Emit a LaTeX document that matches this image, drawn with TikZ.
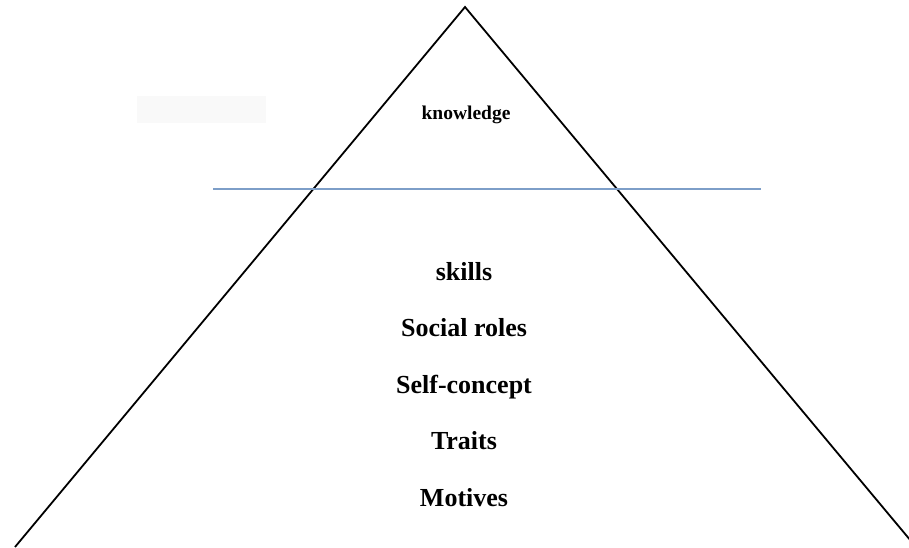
\documentclass[tikz,border=0pt]{standalone}
\usepackage{fontspec}
\setmainfont{Liberation Serif}
\usepackage{tikz}

\definecolor{lineblue}{RGB}{125,158,200}
\definecolor{boxgray}{RGB}{249,249,249}

\tikzset{
  level/.style={font=\fontsize{26}{30}\selectfont\bfseries, inner sep=0pt},
}

\begin{document}
\begin{tikzpicture}[x=1pt,y=-1pt]
\useasboundingbox (0,0) rectangle (909,547);
\clip (0,0) rectangle (909,547);
\fill[boxgray] (137,96) rectangle (266,123);
\coordinate (apex) at (465,7);
\coordinate (left) at (15,547);
\coordinate (right) at (916,547);
\draw[line width=1.8pt] (left) -- (apex) -- (right);
\coordinate (cutL) at (213,189);
\coordinate (cutR) at (761,189);
\draw[line width=1.8pt,lineblue] (cutL) -- (cutR);
\node[font=\fontsize{19.5}{22}\selectfont\bfseries] (know) at (466,115) {knowledge};
\node[level] (skills) at (464,272) {skills};
\node[level] (roles) at (464,328) {Social roles};
\node[level] (self) at (464,387) {Self-concept};
\node[level] (traits) at (464,441) {Traits};
\node[level] (motives) at (464,498) {Motives};
\end{tikzpicture}
\end{document}
